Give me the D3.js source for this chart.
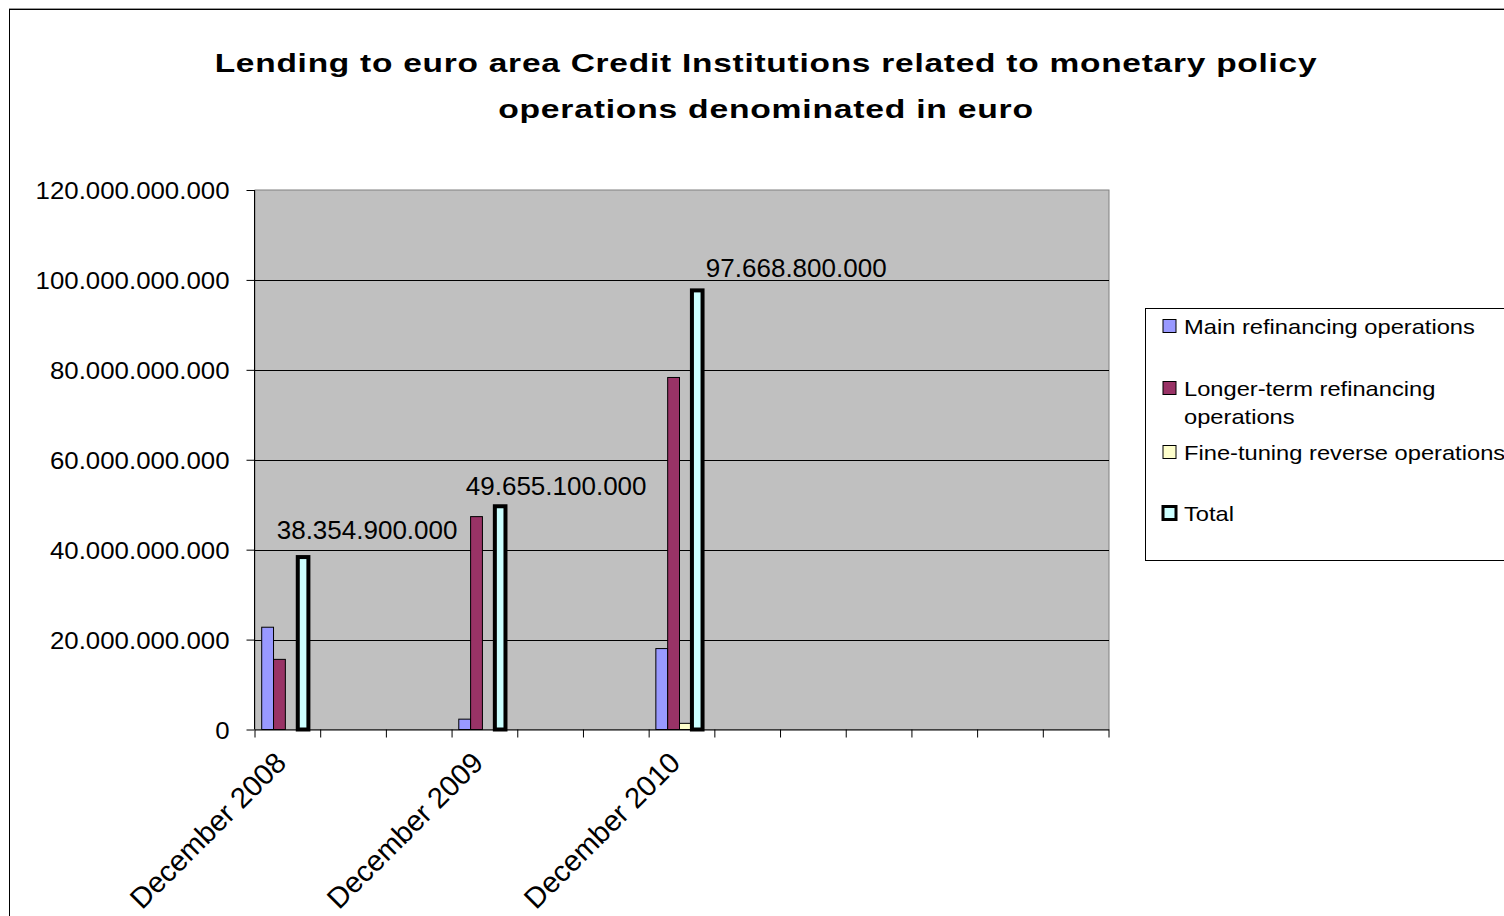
<!DOCTYPE html>
<html>
<head>
<meta charset="utf-8">
<script src="https://cdn.jsdelivr.net/npm/d3@7"></script>
<style>
  html, body { margin: 0; padding: 0; background: #fff; }
  svg { display: block; font-family: "Liberation Sans", Arial, sans-serif; }
</style>
</head>
<body>
<svg id="chart" width="1504" height="916"></svg>
<script>
// ---------- data ----------
const categories = ["December 2008", "", "", "December 2009", "", "", "December 2010", "", "", "", "", "", ""];
const seriesNames = ["Main refinancing operations", "Longer-term refinancing operations", "Fine-tuning reverse operations", "Total"];
const mainRefinancing = [22750000000, null, null, 2300000000, null, null, 18000000000, null, null, null, null, null, null];
const longerTerm      = [15600000000, null, null, 47350000000, null, null, 78300000000, null, null, null, null, null, null];
const fineTuning      = [0, null, null, 0, null, null, 1370000000, null, null, null, null, null, null];
const total           = [38354900000, null, null, 49655100000, null, null, 97668800000, null, null, null, null, null, null];
const yTicks = [0, 20000000000, 40000000000, 60000000000, 80000000000, 100000000000, 120000000000];
const titleLines = ["Lending to euro area Credit Institutions related to monetary policy", "operations denominated in euro"];

// ---------- layout ----------
const W = 1504, H = 916;
const plot = { x0: 255, x1: 1109, y0: 190, y1: 729.5 };
const colors = ["#9999FF", "#993366", "#FFFFCC", "#CCFFFF"];
const labelOffsets = [[64, -18], [56, -11], [99, -13]]; // data-label placement relative to Total bar

const svg = d3.select("#chart");
svg.append("rect").attr("width", W).attr("height", H).attr("fill", "#fff");

// outer chart border
svg.append("rect").attr("x", 9.5).attr("y", 8.5).attr("width", W + 20).attr("height", H + 20)
  .attr("fill", "none").attr("stroke", "#999").attr("stroke-width", 1);
svg.append("rect").attr("x", 9.5).attr("y", 9.5).attr("width", W + 20).attr("height", H + 20)
  .attr("fill", "none").attr("stroke", "#000").attr("stroke-width", 1);

// title (fitted to the original width)
titleLines.forEach((t, i) => {
  const tx = svg.append("text").text(t)
    .attr("text-anchor", "middle").attr("font-weight", "bold").attr("font-size", 26.5).attr("fill", "#000")
    .attr("letter-spacing", 0.6);
  const target = i === 0 ? 1103 : 536;
  const sx = target / tx.node().getComputedTextLength();
  tx.attr("transform", `translate(766,${i === 0 ? 72 : 118}) scale(${sx},1)`);
});

// scales
const xCat = d3.scaleBand().domain(d3.range(categories.length)).range([plot.x0, plot.x1]).padding(0);
const step = xCat.step();
const xSeries = d3.scaleBand().domain(d3.range(seriesNames.length)).range([step * 0.102, step * 0.822]).padding(0);
const y = d3.scaleLinear().domain([0, 120000000000]).range([plot.y1, plot.y0]);

const loc = d3.formatLocale({ decimal: ",", thousands: ".", grouping: [3], currency: ["", ""] });
const fmt = loc.format(",.0f");

// plot area
svg.append("rect").attr("x", plot.x0).attr("y", plot.y0).attr("width", plot.x1 - plot.x0).attr("height", plot.y1 - plot.y0)
  .attr("fill", "#C0C0C0").attr("stroke", "#808080").attr("stroke-width", 1);

// gridlines
svg.append("g").selectAll("line").data(yTicks.filter(v => v > 0 && v < 120000000000)).join("line")
  .attr("x1", plot.x0).attr("x2", plot.x1)
  .attr("y1", d => Math.round(y(d)) + 0.5).attr("y2", d => Math.round(y(d)) + 0.5)
  .attr("stroke", "#000").attr("stroke-width", 1);

// y axis
const yAxis = d3.axisLeft(y).tickValues(yTicks).tickFormat(fmt).tickSize(8).tickPadding(0);
const yg = svg.append("g").attr("transform", `translate(${plot.x0 - 0.5},0)`).call(yAxis);
yg.select(".domain").attr("stroke", "#000").attr("d", `M0,${plot.y0}V${plot.y1}`);
yg.selectAll(".tick line").attr("stroke", "#000");
const yLabs = yg.selectAll(".tick text").attr("font-size", 23.5).attr("font-family", "Liberation Sans, Arial, sans-serif")
  .attr("fill", "#000").attr("x", null).attr("dy", null).attr("text-anchor", "end");
const refY = yLabs.filter(d => d === 120000000000).node();
const ySx = 194 / refY.getComputedTextLength();
yLabs.attr("transform", `translate(-25,8.5) scale(${ySx},1)`);

// x axis
const xAxis = d3.axisBottom(xCat).tickValues([]).tickSize(0);
const xg = svg.append("g").attr("transform", `translate(0,${plot.y1})`).call(xAxis);
xg.select(".domain").attr("stroke", "#000").attr("d", `M${plot.x0},0.5H${plot.x1}`);
// tick marks at category boundaries
xg.append("g").selectAll("line").data(d3.range(categories.length + 1)).join("line")
  .attr("x1", i => plot.x0 + i * step).attr("x2", i => plot.x0 + i * step)
  .attr("y1", 0).attr("y2", 8).attr("stroke", "#000");
// category labels
xg.append("g").selectAll("text").data(categories.map((c, i) => ({ c, i })).filter(d => d.c)).join("text")
  .text(d => d.c)
  .attr("text-anchor", "end").attr("font-size", 29).attr("fill", "#000")
  .attr("transform", d => `translate(${xCat(d.i) + step / 2},${35}) rotate(-45)`);

// bars
const seriesData = [mainRefinancing, longerTerm, fineTuning, total];
const barsG = svg.append("g");
seriesData.forEach((arr, s) => {
  const pts = arr.map((v, i) => ({ v, i })).filter(d => d.v !== null && d.v > 0);
  barsG.append("g").selectAll("rect").data(pts).join("rect")
    .attr("x", d => xCat(d.i) + xSeries(s) + (s === 3 ? 0.6 : 0))
    .attr("width", xSeries.bandwidth() - (s === 3 ? 1.2 : 0))
    .attr("y", d => y(d.v))
    .attr("height", d => y(0) - y(d.v))
    .attr("fill", colors[s])
    .attr("stroke", "#000")
    .attr("stroke-width", s === 3 ? 4 : 1);
});

// data labels for total
const totPts = total.map((v, i) => ({ v, i })).filter(d => d.v !== null);
svg.append("g").selectAll("text").data(totPts).join("text")
  .text(d => fmt(d.v))
  .attr("text-anchor", "middle").attr("font-size", 26).attr("fill", "#000")
  .attr("x", (d, k) => xCat(d.i) + xSeries(3) + xSeries.bandwidth() / 2 + labelOffsets[k][0])
  .attr("y", (d, k) => y(d.v) + labelOffsets[k][1]);

// legend
const lg = svg.append("g");
lg.append("rect").attr("x", 1145.5).attr("y", 308.5).attr("width", 400).attr("height", 252)
  .attr("fill", "#fff").attr("stroke", "#000").attr("stroke-width", 1);
const legendRows = [
  { lines: ["Main refinancing operations"], cy: 326 },
  { lines: ["Longer-term refinancing", "operations"], cy: 388 },
  { lines: ["Fine-tuning reverse operations"], cy: 452 },
  { lines: ["Total"], cy: 513 }
];
let legSx = null;
legendRows.forEach((r, s) => {
  lg.append("rect").attr("x", 1163).attr("y", r.cy - 6.5).attr("width", 13).attr("height", 13)
    .attr("fill", colors[s]).attr("stroke", "#000").attr("stroke-width", s === 3 ? 3 : 1);
  r.lines.forEach((t, j) => {
    const tx = lg.append("text").text(t).attr("font-size", 21).attr("fill", "#000");
    if (legSx === null) legSx = 291 / tx.node().getComputedTextLength();
    tx.attr("transform", `translate(1184,${r.cy + 7.5 + j * 28}) scale(${legSx},1)`);
  });
});
</script>
</body>
</html>
